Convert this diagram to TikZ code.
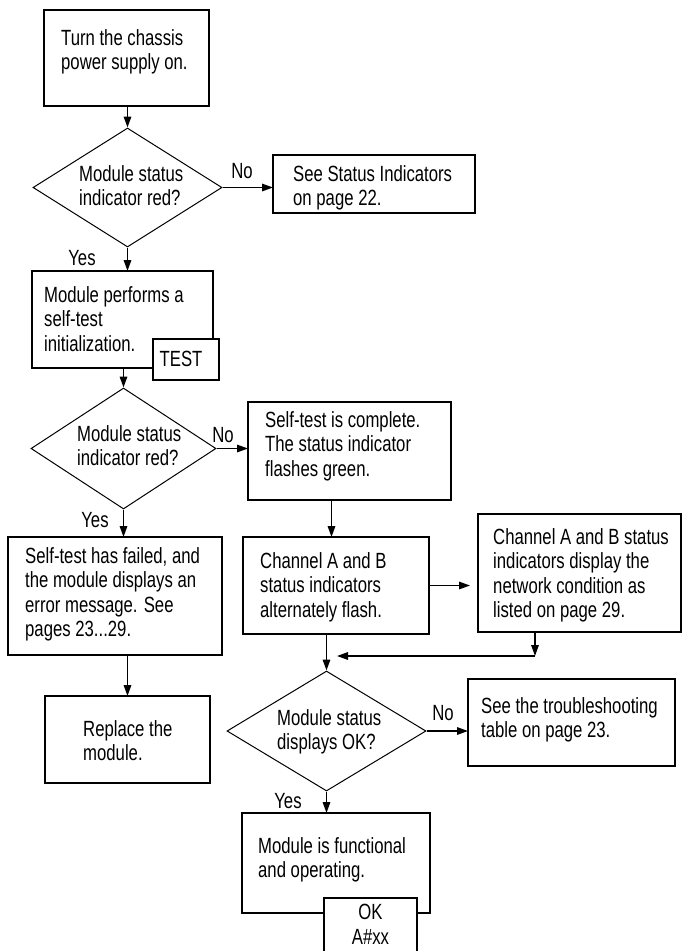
\documentclass[tikz,border=0pt]{standalone}
\usepackage{fontspec}
\setmainfont{Liberation Sans}[FakeStretch=0.76]
\usetikzlibrary{shapes.geometric,arrows.meta}
\begin{document}
\begin{tikzpicture}[x=1pt,y=-1pt,
  font=\fontsize{22}{24.5}\selectfont,
  box/.style={draw,line width=1.8pt,inner sep=0pt,outer sep=0pt,anchor=north west,fill=white},
  dia/.style={draw,diamond,line width=1pt,inner sep=0pt},
  txt/.style={anchor=north west,inner sep=0pt,align=left},
  lbl/.style={anchor=base,inner sep=0pt},
  arr/.style={line width=1.6pt,-{Triangle[length=11pt,width=7.5pt]}}]
\clip (0,0) rectangle (682,951);
\fill[white] (0,0) rectangle (682,951);

% boxes
\node[box,minimum width=165pt,minimum height=96pt] (b1) at (44,10) {};
\node[box,minimum width=202pt,minimum height=58pt] (b2) at (273,155) {};
\node[box,minimum width=181pt,minimum height=97pt] (b3) at (32,271) {};
\node[box,minimum width=66pt,minimum height=41pt] (test) at (153,339) {};
\node[box,minimum width=203pt,minimum height=98pt] (b4) at (248,402) {};
\node[box,minimum width=186pt,minimum height=97pt] (b5) at (243,537) {};
\node[box,minimum width=203pt,minimum height=118pt] (b6) at (478,514) {};
\node[box,minimum width=214pt,minimum height=118pt] (bf) at (8,537) {};
\node[box,minimum width=165pt,minimum height=87pt] (br) at (45,696) {};
\node[box,minimum width=207pt,minimum height=87pt] (b7) at (468,679) {};
\node[box,minimum width=188pt,minimum height=100pt] (b8) at (242,813) {};
\node[box,minimum width=93pt,minimum height=70pt] (ok) at (324,898) {};

% diamonds
\node[dia,minimum width=189pt,minimum height=119pt] (d1) at (127.5,187.5) {};
\node[dia,minimum width=185pt,minimum height=121pt] (d2) at (123.5,448.5) {};
\node[dia,minimum width=199pt,minimum height=120pt] (d3) at (326.5,731) {};

% texts
\node[txt] (t1) at (61,29) {Turn the chassis\\power supply on.};
\node[txt] (td1) at (79,165) {Module status\\indicator red?};
\node[txt] (t2) at (293,165) {See Status Indicators\\on page 22.};
\node[txt] (t3) at (44,286) {Module performs a\\self-test\\initialization.};
\node[lbl] (ttest) at (181,366) {TEST};
\node[txt] (td2) at (77,425) {Module status\\indicator red?};
\node[txt] (t4) at (265,411) {Self-test is complete.\\The status indicator\\flashes green.};
\node[txt] (t5) at (260,552) {Channel A and B\\status indicators\\alternately flash.};
\node[txt] (t6) at (493,528) {Channel A and B status\\indicators display the\\network condition as\\listed on page 29.};
\node[txt] (tf) at (25,547) {Self-test has failed, and\\the module displays an\\error message. See\\pages 23...29.};
\node[txt] (tr) at (83,720) {Replace the\\module.};
\node[txt] (td3) at (277,709) {Module status\\displays OK?};
\node[txt] (t7) at (481,697) {See the troubleshooting\\table on page 23.};
\node[txt] (t8) at (258,837) {Module is functional\\and operating.};
\node[anchor=north,inner sep=0pt,align=center] (tok) at (370.5,904) {OK\\A\#xx};

% labels
\node[lbl] (no1) at (242,178) {No};
\node[lbl] (yes1) at (82,265) {Yes};
\node[lbl] (no2) at (223,442) {No};
\node[lbl] (yes2) at (95,527) {Yes};
\node[lbl] (no3) at (443,720) {No};
\node[lbl] (yes3) at (288,808) {Yes};

% connectors
\draw[arr] (d1.north |- b1.south) -- (d1.north);
\draw[arr] (d1.east) -- (b2.west |- d1.east);
\draw[arr] (d1.south) -- (d1.south |- b3.north);
\draw[arr] (d2.north |- b3.south) -- (d2.north);
\draw[arr] (d2.east) -- (b4.west |- d2.east);
\draw[arr] (d2.south) -- (d2.south |- bf.north);
\draw[arr] (br.north |- bf.south) -- (br.north);
\draw[arr] ([xshift=-18pt]b4.south) -- ([xshift=-18pt]b4.south |- b5.north);
\draw[arr] (b5.east) -- ([xshift=-8pt]b6.west |- b5.east);
\coordinate (m1) at (535,656);
\coordinate (m2) at (337,656);
\draw[arr] (m1 |- b6.south) -- (m1);
\draw[arr] (m1) -- (m2);
\draw[arr] (d3.north |- b5.south) -- (d3.north);
\draw[arr] (d3.east) -- (b7.west |- d3.east);
\draw[arr] (d3.south) -- (d3.south |- b8.north);
\end{tikzpicture}
\end{document}
